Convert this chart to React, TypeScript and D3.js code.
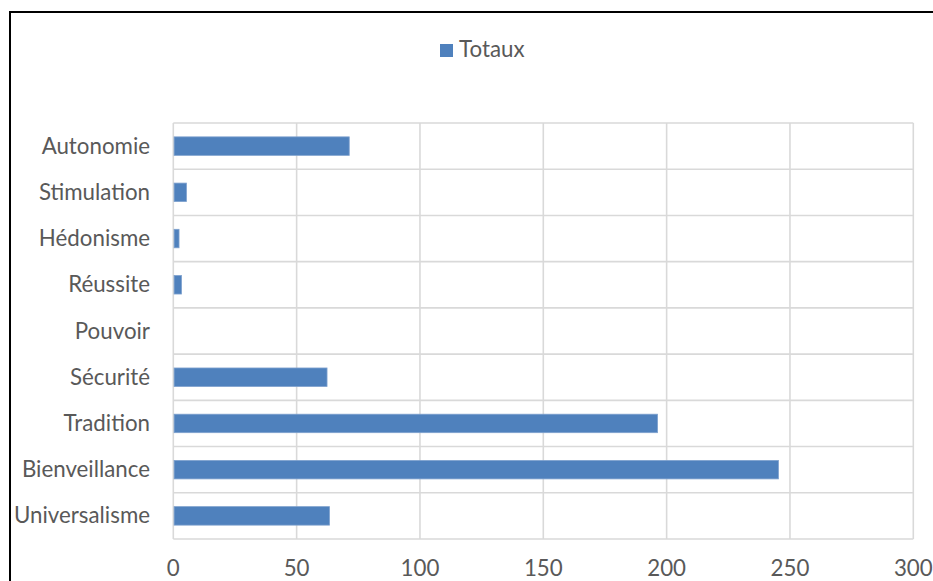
import { useEffect, useRef } from 'react'
import * as d3 from 'd3'

const WIDTH = 933
const HEIGHT = 581
const PLOT = { left: 173.3, right: 913.3, top: 123, bottom: 539 }
const FONT = 'Lato, "Open Sans", sans-serif'
const FONT_SIZE = 22.3
const TEXT_COLOR = '#595959'
const GRID_COLOR = '#D9D9D9'
const BAR_COLOR = '#4F81BD'

const categories = [
  'Autonomie',
  'Stimulation',
  'Hédonisme',
  'Réussite',
  'Pouvoir',
  'Sécurité',
  'Tradition',
  'Bienveillance',
  'Universalisme',
]
const totaux = [71, 5, 2, 3, 0, 62, 196, 245, 63]
const xTicks = [0, 50, 100, 150, 200, 250, 300]
const seriesName = 'Totaux'

export default function App() {
  const svgRef = useRef<SVGSVGElement>(null)

  useEffect(() => {
    const svgEl = svgRef.current
    if (!svgEl) return
    const svg = d3.select(svgEl)
    svg.selectAll('*').remove()

    svg.append('rect')
      .attr('width', WIDTH).attr('height', HEIGHT).attr('fill', '#fff')

    // outer chart frame (runs off the right and bottom edges)
    svg.append('rect')
      .attr('x', 10).attr('y', 12).attr('width', 1000).attr('height', 700)
      .attr('fill', 'none').attr('stroke', '#000').attr('stroke-width', 2)

    // ── Scales ──────────────────────────────────────────────────────────────
    const x = d3.scaleLinear([0, 300], [PLOT.left, PLOT.right])
    const y = d3.scaleBand(categories, [PLOT.top, PLOT.bottom])
      .paddingInner(0.6).paddingOuter(0.3)
    const step = y.step()

    // ── Grid ────────────────────────────────────────────────────────────────
    const grid = svg.append('g')
    d3.range(categories.length + 1).forEach(i => {
      const gy = PLOT.top + i * step
      grid.append('line')
        .attr('x1', PLOT.left).attr('x2', PLOT.right)
        .attr('y1', gy).attr('y2', gy)
        .attr('stroke', GRID_COLOR).attr('stroke-width', 1.6)
    })
    xTicks.forEach(t => {
      grid.append('line')
        .attr('x1', x(t)).attr('x2', x(t))
        .attr('y1', PLOT.top).attr('y2', PLOT.bottom)
        .attr('stroke', GRID_COLOR).attr('stroke-width', 1.6)
    })

    // ── Bars ────────────────────────────────────────────────────────────────
    svg.append('g')
      .selectAll('rect')
      .data(categories.map((c, i) => ({ c, v: totaux[i] })))
      .join('rect')
      .attr('x', x(0) + 0.8)
      .attr('y', d => y(d.c)!)
      .attr('width', d => Math.max(0, x(d.v) - x(0)))
      .attr('height', y.bandwidth())
      .attr('fill', BAR_COLOR)
      .attr('stroke', d => (d.v > 0 ? '#7EA1CE' : 'none'))
      .attr('stroke-width', 0.8)

    // ── Axis labels ─────────────────────────────────────────────────────────
    const labels = svg.append('g')
      .attr('font-family', FONT).attr('font-size', FONT_SIZE).attr('fill', TEXT_COLOR)

    categories.forEach(c => {
      labels.append('text')
        .attr('x', 150).attr('y', y(c)! + y.bandwidth() / 2 + 7.5)
        .attr('text-anchor', 'end')
        .text(c)
    })

    xTicks.forEach(t => {
      labels.append('text')
        .attr('x', x(t)).attr('y', 576)
        .attr('text-anchor', 'middle')
        .text(t)
    })

    // ── Legend ──────────────────────────────────────────────────────────────
    const legend = svg.append('g')
    legend.append('rect')
      .attr('x', 440).attr('y', 44).attr('width', 13).attr('height', 13)
      .attr('fill', BAR_COLOR)
    legend.append('text')
      .attr('x', 459).attr('y', 57)
      .attr('font-family', FONT).attr('font-size', FONT_SIZE).attr('fill', TEXT_COLOR)
      .text(seriesName)
  }, [])

  return (
    <div style={{ position: 'fixed', left: 0, top: 0, width: WIDTH, height: HEIGHT }}>
      <svg ref={svgRef} width={WIDTH} height={HEIGHT} style={{ display: 'block' }} />
    </div>
  )
}
